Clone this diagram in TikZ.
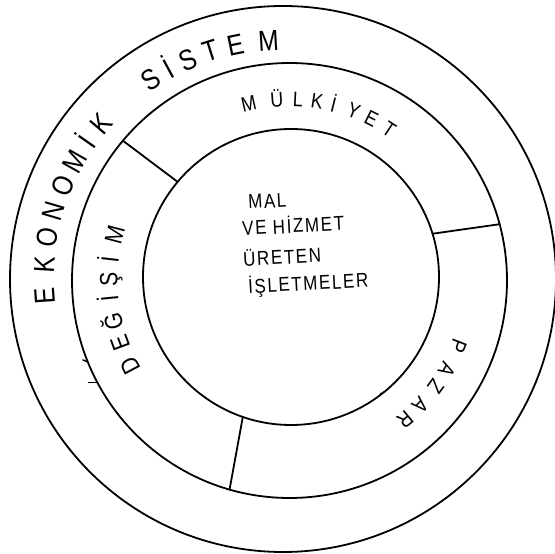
\documentclass[tikz,border=0pt]{standalone}
\usepackage{fontspec}
\setmainfont{Liberation Sans}[FakeStretch=0.85]
\usetikzlibrary{positioning}

\begin{document}
\begin{tikzpicture}[
    x=1pt, y=1pt,
    ring/.style={circle, draw=black, line width=1.8pt, inner sep=0pt, outer sep=0pt},
    divider/.style={draw, line width=1.8pt},
    penmark/.style={draw, line width=1.4pt},
    outerletter/.style={anchor=base, inner sep=0pt, font=\fontsize{29}{29}\selectfont},
    ringletter/.style={anchor=base, inner sep=0pt, font=\fontsize{21}{21}\selectfont},
    bigringletter/.style={anchor=base, inner sep=0pt, font=\fontsize{25}{25}\selectfont},
    coreline/.style={anchor=west, inner sep=0pt, rotate=3,
        font=\fontsize{20}{20}\selectfont\addfontfeature{LetterSpace=8}},
    every path/.style={line cap=round}
]
\useasboundingbox (0,0) rectangle (555,554);

% rings
\node[ring, minimum size=546pt] (outer) at (283,275) {};
\node[ring, minimum size=435pt] (middle) at (289.5,273.5) {};
\node[ring, minimum size=296pt] (inner) at (291,277) {};

% dividers of the middle ring
\draw[divider] (inner.140) -- (middle.140);
\draw[divider] (inner.17) -- (middle.15);
\draw[divider] (inner.251) -- (middle.254);

% small pen marks
\draw[penmark] (middle.202) -- ++(-5,2);
\draw[penmark] (middle.208) -- ++(-9,0);
\draw[penmark] (inner.-51) -- ++(-4,-2);

% outer ring text
\begin{scope}[shift={(outer.center)}]
\foreach \ch/\a [count=\i] in {E/184, K/176.5, O/170, N/163.5, O/157, M/150.5, İ/145, K/139.5,
                              S/123.5, İ/118.5, S/113.5, T/107.5, E/101.5, M/93.5}
    \node[outerletter, rotate=\a-90] (eko\i) at (\a:229) {\ch};
\end{scope}

% middle ring texts
\begin{scope}[shift={(middle.center)}]
\foreach \ch/\a [count=\i] in {M/103, Ü/94, L/87.3, K/81.2, İ/75.9, Y/69.2, E/63.1, T/56.6}
    \node[ringletter, rotate=\a-90] (mulk\i) at (\a:174) {\ch};
\foreach \ch/\a [count=\i] in {D/208, E/200.3, Ğ/193.2, İ/185.6, Ş/179.8, İ/173.5, M/165.2}
    \node[bigringletter, rotate=\a-90] (deg\i) at (\a:172) {\ch};
\foreach \ch/\a [count=\i] in {P/-21.3, A/-29.6, Z/-36, A/-43.7, R/-50.4}
    \node[ringletter, font=\fontsize{22}{22}\selectfont, rotate=\a-90] (paz\i) at (\a:173.5) {\ch};
\end{scope}

% core text
\node[coreline] (mal) at (248,352) {MAL};
\node[coreline] (hizmet) at (242,327) {VE HİZMET};
\node[coreline] (ureten) at (243,296) {ÜRETEN};
\node[coreline] (isletme) at (248,267) {İŞLETMELER};

\end{tikzpicture}
\end{document}
